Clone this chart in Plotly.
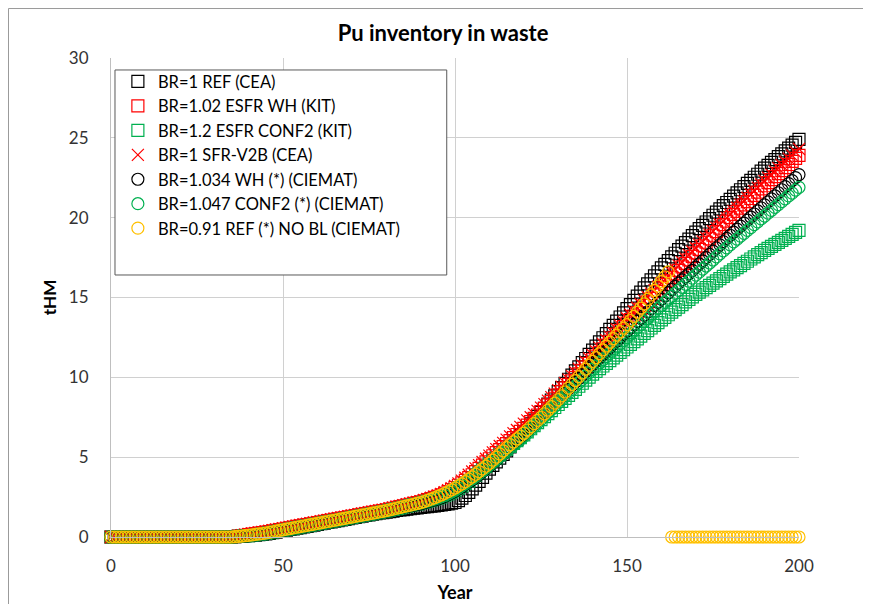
import plotly.graph_objects as go

# Years 0..200, one point per year
years = list(range(201))

# BR=1 REF (CEA)
ref_cea = [
    0, 0, 0, 0, 0, 0, 0, 0, 0, 0,
    0, 0, 0, 0, 0, 0, 0, 0, 0, 0,
    0, 0, 0, 0, 0, 0, 0, 0, 0, 0,
    0, 0, 0, 0, 0, 0, 0.02, 0.04, 0.06, 0.08,
    0.08, 0.10, 0.12, 0.14, 0.17, 0.20, 0.23, 0.27, 0.31, 0.35,
    0.39, 0.43, 0.47, 0.51, 0.55, 0.59, 0.63, 0.67, 0.71, 0.75,
    0.79, 0.83, 0.87, 0.91, 0.95, 0.99, 1.03, 1.07, 1.11, 1.15,
    1.19, 1.23, 1.27, 1.31, 1.35, 1.39, 1.43, 1.47, 1.51, 1.53,
    1.55, 1.59, 1.62, 1.66, 1.69, 1.72, 1.75, 1.77, 1.80, 1.82,
    1.85, 1.88, 1.90, 1.93, 1.95, 1.98, 2.01, 2.04, 2.08, 2.12,
    2.16, 2.28, 2.43, 2.60, 2.80, 3.02, 3.25, 3.49, 3.74, 4.00,
    4.25, 4.48, 4.71, 4.94, 5.17, 5.40, 5.64, 5.88, 6.12, 6.36,
    6.60, 6.84, 7.08, 7.32, 7.56, 7.80, 8.06, 8.32, 8.58, 8.84,
    9.10, 9.36, 9.62, 9.88, 10.14, 10.40, 10.66, 10.92, 11.18, 11.44,
    11.70, 11.96, 12.22, 12.48, 12.74, 13.00, 13.26, 13.52, 13.78, 14.04,
    14.30, 14.56, 14.82, 15.08, 15.34, 15.60, 15.85, 16.10, 16.35, 16.60,
    16.85, 17.08, 17.31, 17.54, 17.77, 18.00, 18.22, 18.44, 18.66, 18.88,
    19.10, 19.31, 19.52, 19.73, 19.94, 20.15, 20.35, 20.55, 20.75, 20.95,
    21.15, 21.35, 21.55, 21.75, 21.95, 22.15, 22.34, 22.53, 22.72, 22.91,
    23.10, 23.28, 23.46, 23.64, 23.82, 24.00, 24.18, 24.36, 24.54, 24.72,
    24.90,
]

# BR=1.02 ESFR WH (KIT)
esfr_wh = [
    0, 0, 0, 0, 0, 0, 0, 0, 0, 0,
    0, 0, 0, 0, 0, 0, 0, 0, 0, 0,
    0, 0, 0, 0, 0, 0, 0, 0, 0, 0,
    0, 0, 0, 0, 0, 0, 0.02, 0.05, 0.08, 0.11,
    0.15, 0.18, 0.21, 0.24, 0.27, 0.30, 0.34, 0.38, 0.42, 0.46,
    0.50, 0.54, 0.58, 0.62, 0.66, 0.70, 0.74, 0.78, 0.82, 0.86,
    0.90, 0.94, 0.98, 1.02, 1.06, 1.10, 1.14, 1.18, 1.22, 1.26,
    1.30, 1.34, 1.38, 1.42, 1.46, 1.50, 1.54, 1.58, 1.62, 1.66,
    1.70, 1.75, 1.80, 1.85, 1.90, 1.95, 2.00, 2.05, 2.10, 2.15,
    2.20, 2.27, 2.34, 2.41, 2.48, 2.55, 2.64, 2.74, 2.85, 2.97,
    3.10, 3.24, 3.39, 3.55, 3.72, 3.90, 4.10, 4.30, 4.50, 4.70,
    4.90, 5.09, 5.28, 5.47, 5.66, 5.85, 6.04, 6.23, 6.42, 6.61,
    6.80, 7.01, 7.22, 7.43, 7.64, 7.85, 8.06, 8.27, 8.48, 8.69,
    8.90, 9.12, 9.34, 9.56, 9.78, 10.00, 10.22, 10.44, 10.66, 10.88,
    11.10, 11.33, 11.56, 11.79, 12.02, 12.25, 12.48, 12.71, 12.94, 13.17,
    13.40, 13.62, 13.84, 14.06, 14.28, 14.50, 14.72, 14.94, 15.16, 15.38,
    15.60, 15.82, 16.04, 16.26, 16.48, 16.70, 16.92, 17.14, 17.36, 17.58,
    17.80, 18.02, 18.24, 18.46, 18.68, 18.90, 19.12, 19.34, 19.56, 19.78,
    20.00, 20.20, 20.40, 20.60, 20.80, 21.00, 21.20, 21.40, 21.60, 21.80,
    22.00, 22.19, 22.38, 22.57, 22.76, 22.95, 23.14, 23.33, 23.52, 23.71,
    23.90,
]

# BR=1.2 ESFR CONF2 (KIT)
esfr_conf2 = [
    0, 0, 0, 0, 0, 0, 0, 0, 0, 0,
    0, 0, 0, 0, 0, 0, 0, 0, 0, 0,
    0, 0, 0, 0, 0, 0, 0, 0, 0, 0,
    0, 0, 0, 0, 0, 0, 0.02, 0.04, 0.06, 0.08,
    0.08, 0.11, 0.14, 0.17, 0.20, 0.23, 0.27, 0.31, 0.35, 0.39,
    0.43, 0.47, 0.51, 0.55, 0.59, 0.63, 0.67, 0.71, 0.75, 0.79,
    0.83, 0.87, 0.91, 0.95, 0.99, 1.03, 1.07, 1.11, 1.15, 1.19,
    1.23, 1.27, 1.31, 1.35, 1.39, 1.43, 1.47, 1.51, 1.55, 1.59,
    1.63, 1.68, 1.73, 1.78, 1.83, 1.88, 1.93, 1.98, 2.03, 2.08,
    2.13, 2.19, 2.25, 2.31, 2.37, 2.43, 2.51, 2.60, 2.70, 2.81,
    2.93, 3.06, 3.20, 3.35, 3.50, 3.68, 3.88, 4.06, 4.24, 4.42,
    4.60, 4.78, 4.96, 5.14, 5.32, 5.50, 5.68, 5.86, 6.04, 6.22,
    6.40, 6.59, 6.78, 6.97, 7.16, 7.35, 7.54, 7.73, 7.92, 8.11,
    8.30, 8.49, 8.68, 8.87, 9.06, 9.25, 9.44, 9.63, 9.82, 10.01,
    10.20, 10.37, 10.54, 10.71, 10.88, 11.05, 11.22, 11.39, 11.56, 11.73,
    11.90, 12.07, 12.24, 12.41, 12.58, 12.75, 12.92, 13.09, 13.26, 13.43,
    13.60, 13.76, 13.92, 14.08, 14.24, 14.40, 14.56, 14.72, 14.88, 15.04,
    15.20, 15.34, 15.48, 15.62, 15.76, 15.90, 16.04, 16.18, 16.32, 16.46,
    16.60, 16.73, 16.87, 17.00, 17.14, 17.27, 17.41, 17.54, 17.68, 17.81,
    17.95, 18.08, 18.20, 18.33, 18.45, 18.58, 18.70, 18.83, 18.95, 19.08,
    19.20,
]

# BR=1 SFR-V2B (CEA)
sfr_v2b = [
    0, 0, 0, 0, 0, 0, 0, 0, 0, 0,
    0, 0, 0, 0, 0, 0, 0, 0, 0, 0,
    0, 0, 0, 0, 0, 0, 0, 0, 0, 0,
    0, 0, 0, 0, 0, 0, 0.03, 0.07, 0.11, 0.15,
    0.20, 0.23, 0.26, 0.29, 0.32, 0.35, 0.39, 0.43, 0.47, 0.51,
    0.55, 0.59, 0.63, 0.67, 0.71, 0.75, 0.79, 0.83, 0.87, 0.91,
    0.95, 0.99, 1.03, 1.07, 1.11, 1.15, 1.19, 1.23, 1.27, 1.31,
    1.35, 1.39, 1.43, 1.47, 1.51, 1.55, 1.59, 1.63, 1.67, 1.71,
    1.75, 1.80, 1.85, 1.90, 1.95, 2.00, 2.05, 2.10, 2.15, 2.20,
    2.25, 2.32, 2.39, 2.46, 2.53, 2.60, 2.70, 2.81, 2.93, 3.06,
    3.20, 3.36, 3.53, 3.71, 3.90, 4.10, 4.30, 4.50, 4.70, 4.90,
    5.10, 5.30, 5.50, 5.70, 5.90, 6.10, 6.30, 6.50, 6.70, 6.90,
    7.10, 7.30, 7.50, 7.70, 7.90, 8.10, 8.32, 8.54, 8.76, 8.98,
    9.20, 9.42, 9.64, 9.86, 10.08, 10.30, 10.52, 10.74, 10.96, 11.18,
    11.40, 11.63, 11.86, 12.09, 12.32, 12.55, 12.78, 13.01, 13.24, 13.47,
    13.70, 13.92, 14.14, 14.36, 14.58, 14.80, 15.02, 15.24, 15.46, 15.68,
    15.90, 16.12, 16.34, 16.56, 16.78, 17.00, 17.22, 17.44, 17.66, 17.88,
    18.10, 18.31, 18.52, 18.73, 18.94, 19.15, 19.36, 19.57, 19.78, 19.99,
    20.20, 20.41, 20.62, 20.83, 21.04, 21.25, 21.46, 21.67, 21.88, 22.09,
    22.30, 22.50, 22.70, 22.90, 23.10, 23.30, 23.50, 23.70, 23.90, 24.10,
    24.30,
]

# BR=1.034 WH (*) (CIEMAT)
wh_ciemat = [
    0, 0, 0, 0, 0, 0, 0, 0, 0, 0,
    0, 0, 0, 0, 0, 0, 0, 0, 0, 0,
    0, 0, 0, 0, 0, 0, 0, 0, 0, 0,
    0, 0, 0, 0, 0, 0, 0.02, 0.03, 0.05, 0.06,
    0.07, 0.10, 0.13, 0.16, 0.19, 0.22, 0.26, 0.30, 0.34, 0.38,
    0.42, 0.46, 0.50, 0.54, 0.58, 0.62, 0.66, 0.70, 0.74, 0.78,
    0.82, 0.86, 0.90, 0.94, 0.98, 1.02, 1.06, 1.10, 1.14, 1.18,
    1.22, 1.26, 1.30, 1.34, 1.38, 1.42, 1.46, 1.50, 1.54, 1.58,
    1.62, 1.67, 1.72, 1.77, 1.82, 1.87, 1.91, 1.95, 1.99, 2.03,
    2.08, 2.14, 2.20, 2.26, 2.32, 2.38, 2.46, 2.55, 2.65, 2.76,
    2.88, 3.01, 3.15, 3.30, 3.44, 3.58, 3.73, 3.91, 4.09, 4.27,
    4.45, 4.64, 4.83, 5.02, 5.21, 5.40, 5.60, 5.80, 6.00, 6.20,
    6.40, 6.62, 6.84, 7.06, 7.28, 7.50, 7.72, 7.94, 8.16, 8.38,
    8.60, 8.82, 9.04, 9.26, 9.48, 9.70, 9.92, 10.14, 10.36, 10.58,
    10.80, 11.01, 11.22, 11.43, 11.64, 11.85, 12.06, 12.27, 12.48, 12.69,
    12.90, 13.10, 13.30, 13.50, 13.70, 13.90, 14.10, 14.30, 14.50, 14.70,
    14.90, 15.10, 15.30, 15.50, 15.70, 15.90, 16.10, 16.30, 16.50, 16.70,
    16.90, 17.10, 17.30, 17.50, 17.70, 17.90, 18.10, 18.30, 18.50, 18.70,
    18.90, 19.09, 19.28, 19.47, 19.66, 19.85, 20.04, 20.23, 20.42, 20.61,
    20.80, 20.99, 21.18, 21.37, 21.56, 21.75, 21.94, 22.13, 22.32, 22.51,
    22.70,
]

# BR=1.047 CONF2 (*) (CIEMAT)
conf2_ciemat = [
    0, 0, 0, 0, 0, 0, 0, 0, 0, 0,
    0, 0, 0, 0, 0, 0, 0, 0, 0, 0,
    0, 0, 0, 0, 0, 0, 0, 0, 0, 0,
    0, 0, 0, 0, 0, 0, 0.02, 0.04, 0.06, 0.08,
    0.08, 0.11, 0.14, 0.17, 0.20, 0.23, 0.27, 0.31, 0.35, 0.39,
    0.43, 0.47, 0.51, 0.55, 0.59, 0.63, 0.67, 0.71, 0.75, 0.79,
    0.83, 0.87, 0.91, 0.95, 0.99, 1.03, 1.07, 1.11, 1.15, 1.19,
    1.23, 1.27, 1.31, 1.35, 1.39, 1.43, 1.47, 1.51, 1.55, 1.59,
    1.63, 1.68, 1.73, 1.78, 1.83, 1.88, 1.93, 1.98, 2.03, 2.08,
    2.13, 2.19, 2.25, 2.31, 2.37, 2.43, 2.51, 2.60, 2.70, 2.81,
    2.93, 3.06, 3.20, 3.35, 3.50, 3.65, 3.80, 3.97, 4.15, 4.32,
    4.50, 4.68, 4.86, 5.04, 5.22, 5.40, 5.58, 5.76, 5.94, 6.12,
    6.30, 6.51, 6.72, 6.93, 7.14, 7.35, 7.56, 7.77, 7.98, 8.19,
    8.40, 8.61, 8.82, 9.03, 9.24, 9.45, 9.66, 9.87, 10.08, 10.29,
    10.50, 10.70, 10.90, 11.10, 11.30, 11.50, 11.70, 11.90, 12.10, 12.30,
    12.50, 12.70, 12.90, 13.10, 13.30, 13.50, 13.70, 13.90, 14.10, 14.30,
    14.50, 14.69, 14.88, 15.07, 15.26, 15.45, 15.64, 15.83, 16.02, 16.21,
    16.40, 16.59, 16.78, 16.97, 17.16, 17.35, 17.54, 17.73, 17.92, 18.11,
    18.30, 18.48, 18.66, 18.84, 19.02, 19.20, 19.38, 19.56, 19.74, 19.92,
    20.10, 20.28, 20.46, 20.64, 20.82, 21.00, 21.18, 21.36, 21.54, 21.72,
    21.90,
]

# BR=0.91 REF (*) NO BL (CIEMAT) - curve stops at year 162, zeros afterwards
ref_nobl = [
    0, 0, 0, 0, 0, 0, 0, 0, 0, 0,
    0, 0, 0, 0, 0, 0, 0, 0, 0, 0,
    0, 0, 0, 0, 0, 0, 0, 0, 0, 0,
    0, 0, 0, 0, 0, 0, 0.02, 0.04, 0.06, 0.08,
    0.10, 0.13, 0.16, 0.19, 0.22, 0.25, 0.29, 0.33, 0.37, 0.41,
    0.45, 0.49, 0.53, 0.57, 0.61, 0.65, 0.69, 0.73, 0.77, 0.81,
    0.85, 0.89, 0.93, 0.97, 1.01, 1.05, 1.09, 1.13, 1.17, 1.21,
    1.25, 1.29, 1.33, 1.37, 1.41, 1.45, 1.49, 1.53, 1.57, 1.61,
    1.65, 1.70, 1.75, 1.80, 1.85, 1.90, 1.95, 2.00, 2.05, 2.10,
    2.15, 2.22, 2.29, 2.37, 2.45, 2.54, 2.63, 2.73, 2.84, 2.95,
    3.07, 3.20, 3.33, 3.47, 3.62, 3.77, 3.93, 4.10, 4.27, 4.44,
    4.62, 4.81, 5.00, 5.20, 5.40, 5.60, 5.78, 5.96, 6.14, 6.32,
    6.50, 6.70, 6.90, 7.10, 7.30, 7.50, 7.72, 7.94, 8.16, 8.38,
    8.60, 8.84, 9.08, 9.32, 9.56, 9.80, 10.04, 10.28, 10.52, 10.76,
    11.00, 11.24, 11.48, 11.72, 11.96, 12.20, 12.42, 12.64, 12.86, 13.08,
    13.30, 13.56, 13.82, 14.08, 14.34, 14.60, 14.88, 15.16, 15.44, 15.72,
    16.00, 16.30, 16.60, 0, 0, 0, 0, 0, 0, 0,
    0, 0, 0, 0, 0, 0, 0, 0, 0, 0,
    0, 0, 0, 0, 0, 0, 0, 0, 0, 0,
    0, 0, 0, 0, 0, 0, 0, 0, 0, 0,
    0,
]

BLACK = "#000000"
RED = "#ff0000"
GREEN = "#00b050"
GOLD = "#ffc000"
FONT = "Lato"

series = [
    ("BR=1 REF (CEA)", ref_cea, "square-open", BLACK),
    ("BR=1.02 ESFR WH (KIT)", esfr_wh, "square-open", RED),
    ("BR=1.2 ESFR CONF2 (KIT)", esfr_conf2, "square-open", GREEN),
    ("BR=1 SFR-V2B (CEA)", sfr_v2b, "x-thin-open", RED),
    ("BR=1.034 WH (*) (CIEMAT)", wh_ciemat, "circle-open", BLACK),
    ("BR=1.047 CONF2 (*) (CIEMAT)", conf2_ciemat, "circle-open", GREEN),
    ("BR=0.91 REF (*) NO BL (CIEMAT)", ref_nobl, "circle-open", GOLD),
]

fig = go.Figure()
for name, vals, sym, col in series:
    fig.add_trace(go.Scatter(
        x=years, y=vals, name=name, mode="markers", cliponaxis=False,
        marker=dict(symbol=sym, size=12, color=col, line=dict(color=col, width=1.2)),
    ))

# the page body has an 8px margin, so the figure is 8px smaller than the window
fig.update_layout(
    width=863, height=596,
    margin=dict(l=103, r=72, t=50, b=67, autoexpand=False),
    paper_bgcolor="white", plot_bgcolor="white",
    font=dict(family=FONT, size=17, color="#333333"),
    title=dict(text="<b>Pu inventory in waste</b>", x=0.4826, xref="paper",
               y=0.958, yref="container", xanchor="center", yanchor="middle",
               automargin=False,
               font=dict(family=FONT, size=22, color="#000000")),
    legend=dict(x=0.01, y=0.987, xanchor="left", yanchor="top",
                borderwidth=0, bgcolor="rgba(0,0,0,0)",
                font=dict(family=FONT, size=16.5, color="#000000"),
                tracegroupgap=0, itemwidth=30),
    showlegend=True,
)

fig.update_xaxes(
    range=[0, 200], dtick=50, showgrid=True, gridcolor="#d0d0d0", gridwidth=1,
    showline=True, linecolor="#bfbfbf", zeroline=False, ticks="",
    ticklabelstandoff=14, automargin=False,
    title=dict(text="<b>Year</b>", font=dict(family=FONT, size=18, color="#000000"),
               standoff=10),
)
fig.update_yaxes(
    range=[0, 30], dtick=5, showgrid=True, gridcolor="#d0d0d0", gridwidth=1,
    showline=True, linecolor="#bfbfbf", zeroline=False, ticks="",
    ticklabelstandoff=18, automargin=False,
    title=dict(text="<b>tHM</b>", font=dict(family=FONT, size=17, color="#000000"),
               standoff=7),
)

# legend box (drawn as a shape so it can be sized like the spreadsheet one)
fig.add_shape(type="rect", xref="paper", yref="paper",
              x0=0.0058, x1=0.488, y0=0.547, y1=0.975,
              line=dict(color="#595959", width=1), fillcolor="white",
              layer="above")

# thin grey frame round the chart, like the spreadsheet chart area
fig.add_shape(type="rect", xref="paper", yref="paper",
              x0=-0.149, x1=1.0974, y0=-0.2, y1=1.1033,
              line=dict(color="#9a9a9a", width=1), fillcolor="rgba(0,0,0,0)",
              layer="below")

fig.write_html("out.html")
